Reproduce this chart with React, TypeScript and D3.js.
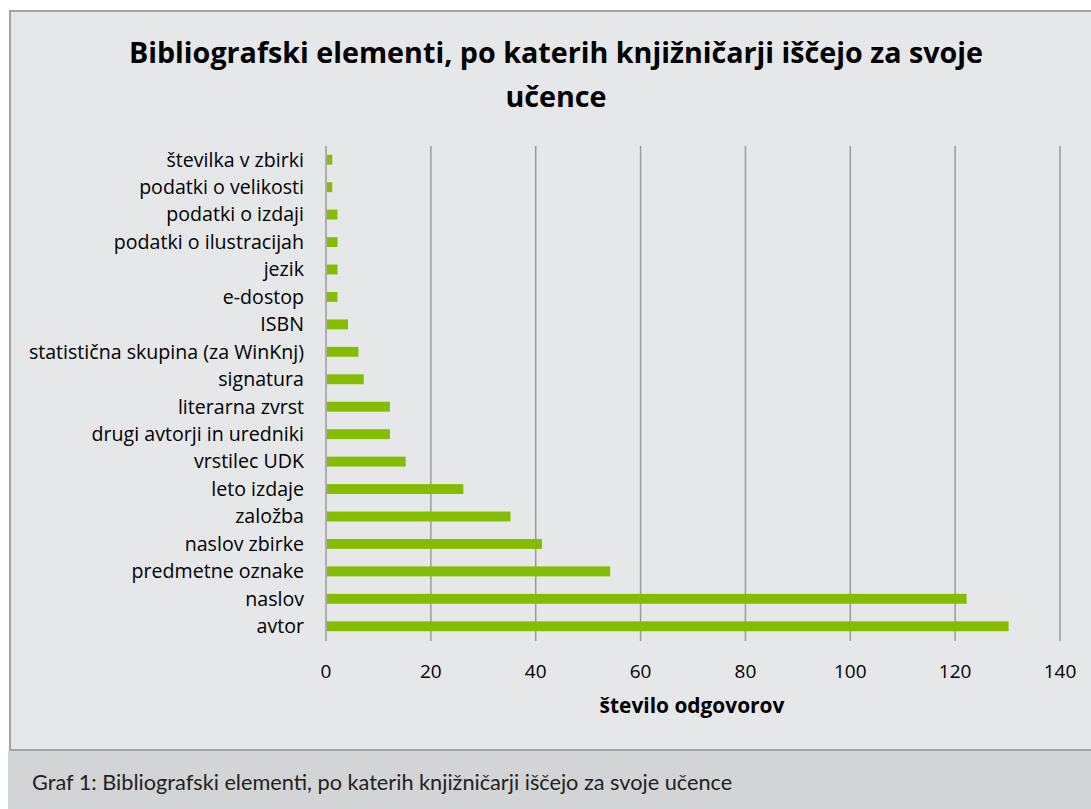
import React from "react";
import * as d3 from "d3";

const categories = [
  "številka v zbirki",
  "podatki o velikosti",
  "podatki o izdaji",
  "podatki o ilustracijah",
  "jezik",
  "e-dostop",
  "ISBN",
  "statistična skupina (za WinKnj)",
  "signatura",
  "literarna zvrst",
  "drugi avtorji in uredniki",
  "vrstilec UDK",
  "leto izdaje",
  "založba",
  "naslov zbirke",
  "predmetne oznake",
  "naslov",
  "avtor",
];
const values = [1, 1, 2, 2, 2, 2, 4, 6, 7, 12, 12, 15, 26, 35, 41, 54, 122, 130];
const xTicks = [0, 20, 40, 60, 80, 100, 120, 140];
const titleLines = ["Bibliografski elementi, po katerih knjižničarji iščejo za svoje", "učence"];
const axisTitle = "število odgovorov";
const caption = "Graf 1: Bibliografski elementi, po katerih knjižničarji iščejo za svoje učence";

const W = 1091;
const H = 809;
const FONT = "'Open Sans', Lato, sans-serif";
const CAPFONT = "Lato, sans-serif";

export default function App() {
  const x = d3.scaleLinear().domain([0, 140]).range([326, 1060]);
  const y = d3.scaleBand<string>().domain(categories).range([146, 640]).paddingInner(0.64).paddingOuter(0.32);
  const bw = y.bandwidth();
  return (
    <svg width={W} height={H} style={{ position: "absolute", left: 0, top: 0 }} fontFamily={FONT}>
      <rect x={0} y={0} width={W} height={H} fill="#ffffff" />
      <rect x={10} y={11} width={W + 20} height={739} fill="#e6e7e9" stroke="#a3a3a3" strokeWidth={2} />
      <rect x={8} y={751} width={W} height={58} fill="#d3d4d6" />
      <text x={32} y={790} fontSize={21.7} fill="#222" fontFamily={CAPFONT}>{caption}</text>
      {titleLines.map((t, i) => (
        <text key={i} x={556} y={63 + i * 44} textAnchor="middle" fontSize={28.7} fontWeight="bold" fill="#000">{t}</text>
      ))}
      {xTicks.map((t) => (
        <g key={t}>
          <line x1={x(t)} x2={x(t)} y1={146} y2={641} stroke="#9a9a9a" strokeWidth={1.5} />
          <text x={x(t)} y={678} textAnchor="middle" fontSize={19} fill="#000">{t}</text>
        </g>
      ))}
      {categories.map((c, i) => (
        <g key={c}>
          <rect x={x(0) + 1} y={y(c)!} width={x(values[i]) - x(0)} height={bw} fill="#84bd00" />
          <text x={304} y={y(c)! + bw / 2} dy="0.35em" textAnchor="end" fontSize={19.6} fill="#000">{c}</text>
        </g>
      ))}
      <text x={692} y={713} textAnchor="middle" fontSize={20.9} fontWeight="bold" fill="#000">{axisTitle}</text>
    </svg>
  );
}
